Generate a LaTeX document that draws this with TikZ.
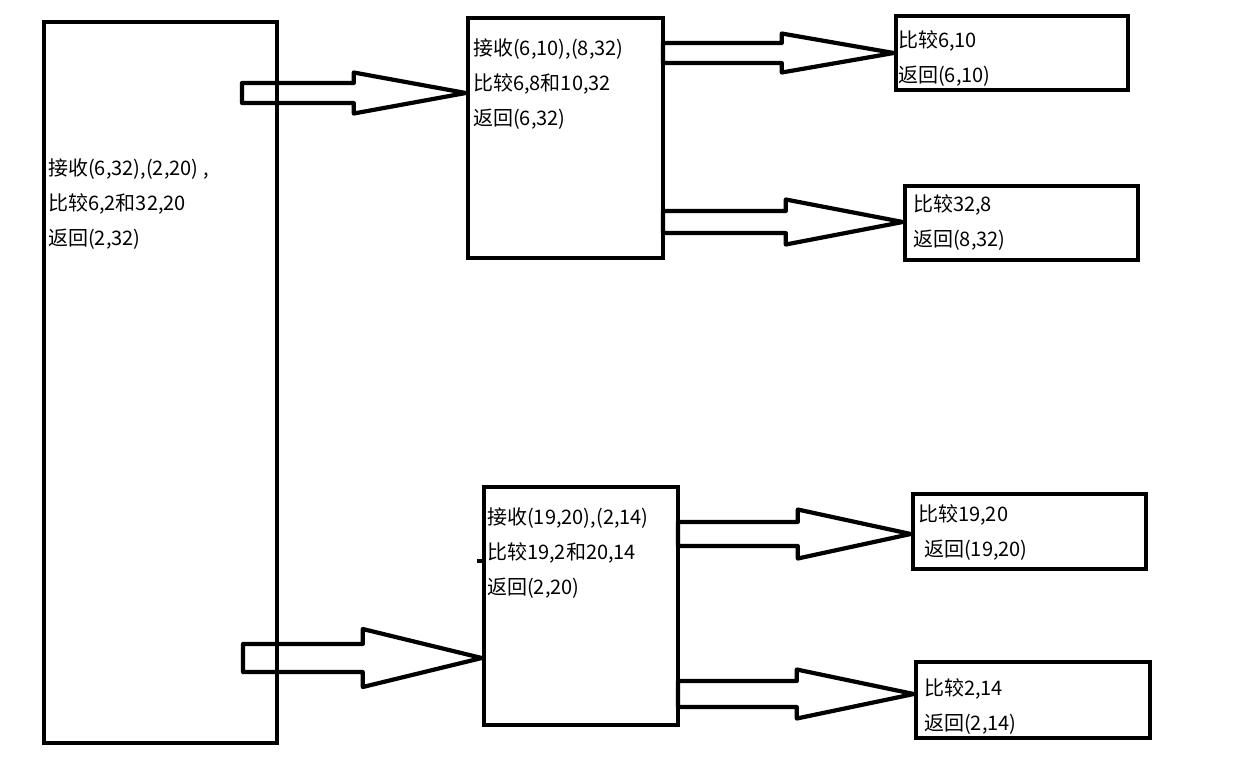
\documentclass[tikz,border=0pt]{standalone}
\usepackage{fontspec}
\setmainfont{Noto Sans CJK SC}
\usetikzlibrary{calc,positioning}

% hollow block arrow: start, tip, shaft half width, head half width, head length
\newcommand{\fatarrow}[5]{%
  \draw[fatline] let \p1=(#1), \p2=(#2) in
    (\x1,\y1+#3) -- (\x2-#5,\y1+#3) -- (\x2-#5,\y1+#4) -- (\x2,\y2)
    -- (\x2-#5,\y1-#4) -- (\x2-#5,\y1-#3) -- (\x1,\y1-#3) -- cycle;}

\begin{document}
\begin{tikzpicture}[x=1pt, y=-1pt,
    box/.style={draw, line width=4.5pt, inner sep=0pt},
    txt/.style={anchor=west, align=left, inner sep=0pt, font=\fontsize{20}{35}\selectfont},
    fatline/.style={draw, line width=4.2pt, line join=round}]
  \fill[white] (0,0) rectangle (1246,777);
  \useasboundingbox (0,0) rectangle (1246,777);

  % boxes
  \node[box, minimum width=233pt, minimum height=721pt] (left) at (160.5,382.5) {};
  \node[box, minimum width=195pt, minimum height=240pt] (up) at (565.5,138) {};
  \node[box, minimum width=194pt, minimum height=238pt] (down) at (581,606) {};
  \node[box, minimum width=232pt, minimum height=74pt] (r1) at (1012,53) {};
  \node[box, minimum width=233pt, minimum height=74pt] (r2) at (1021.5,223) {};
  \node[box, minimum width=233pt, minimum height=75pt] (r3) at (1029.5,531.5) {};
  \node[box, minimum width=234pt, minimum height=76pt] (r4) at (1033,700) {};

  % texts
  \node[txt] (leftTxt) at (48,204) {接收(6,32),(2,20) ,\\比较6,2和32,20\\返回(2,32)};
  \node[txt] (upTxt) at (473,84) {接收(6,10),(8,32)\\比较6,8和10,32\\返回(6,32)};
  \node[txt] (downTxt) at (487,553) {接收(19,20),(2,14)\\比较19,2和20,14\\返回(2,20)};
  \node[txt] (r1Txt) at (898,59) {比较6,10\\返回(6,10)};
  \node[txt] (r2Txt) at (913,223) {比较32,8\\返回(8,32)};
  \node[txt] (r3Txt) at (918,532) {比较19,20\\\hspace*{6pt}返回(19,20)};
  \node[txt] (r4Txt) at (924,706) {比较2,14\\返回(2,14)};

  % arrow starts
  \coordinate (a1) at (242,93);
  \coordinate (a2) at (243,658);
  \coordinate (a3) at (663,53);
  \coordinate (a4) at (663,222);
  \coordinate (a5) at (678,534);
  \coordinate (a6) at (678,694);

  \fatarrow{a1}{up.west |- a1}{10pt}{20.5pt}{112pt}
  \fatarrow{a2}{down.west |- a2}{14pt}{29pt}{119pt}
  \fatarrow{a3}{r1.west |- a3}{10pt}{19.5pt}{112pt}
  \fatarrow{a4}{r2.west |- a4}{11pt}{22.5pt}{117pt}
  \fatarrow{a5}{r3.west |- a5}{12pt}{24.5pt}{113pt}
  \fatarrow{a6}{r4.west |- a6}{13pt}{24.5pt}{117pt}

  % small stub left of the lower middle box
  \coordinate (tick) at (477,561);
  \draw[line width=4pt] (tick) -- (down.west |- tick);
\end{tikzpicture}
\end{document}
